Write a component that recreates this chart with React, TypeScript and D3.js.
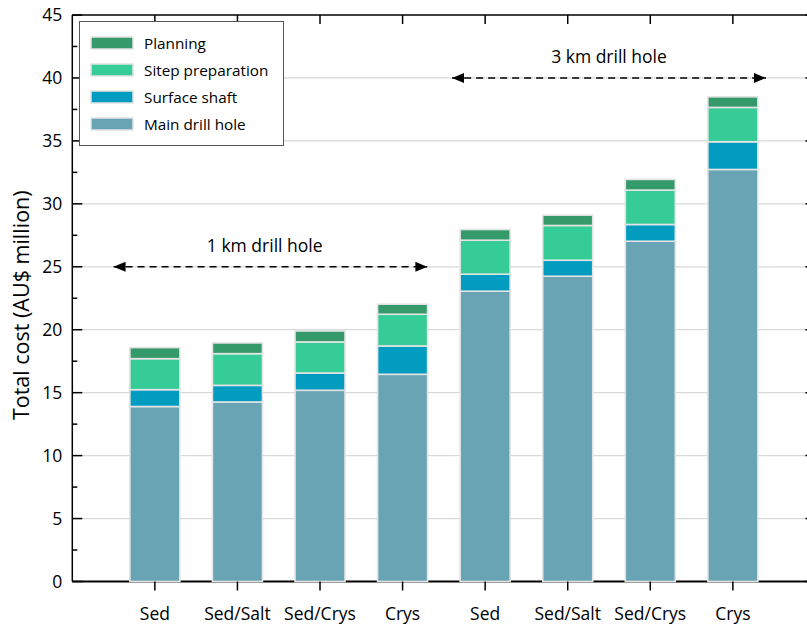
import React from "react";
import * as d3 from "d3";

// Geology categories, 1 km holes then 3 km holes
const categories = ["Sed", "Sed/Salt", "Sed/Crys", "Crys", "Sed", "Sed/Salt", "Sed/Crys", "Crys"];

// Cost components (AU$ million), stacked bottom to top
const mainDrillHole = [13.9, 14.26, 15.19, 16.46, 23.06, 24.25, 27.03, 32.73];
const surfaceShaft = [1.34, 1.32, 1.37, 2.25, 1.35, 1.27, 1.33, 2.2];
const sitePreparation = [2.46, 2.52, 2.47, 2.52, 2.7, 2.76, 2.73, 2.73];
const planning = [0.88, 0.85, 0.87, 0.8, 0.85, 0.82, 0.85, 0.84];

const seriesKeys = ["main", "shaft", "site", "planning"];
const seriesNames = ["Main drill hole", "Surface shaft", "Sitep preparation", "Planning"];
const seriesColors = ["#68a4b3", "#019cc0", "#35cc97", "#359a6a"];

const yTicks = [0, 5, 10, 15, 20, 25, 30, 35, 40, 45];
const yMinorTicks = [2.5, 7.5, 12.5, 17.5, 22.5, 27.5, 32.5, 37.5, 42.5];

// Span annotations: [from, to] in category position units, at a given cost level
const spanLabels = ["1 km drill hole", "3 km drill hole"];
const spanRanges = [
  [0.5, 4.3],
  [4.6, 8.4],
];
const spanLevels = [25, 40];
const spanTextPos = [2.33, 6.5];

const W = 807;
const H = 627;
const FONT = "'Open Sans', 'Noto Sans', sans-serif";

export default function App() {
  const x = d3.scaleLinear().domain([0, 9]).range([72.3, 72.3 + 82.57 * 9]);
  const y = d3.scaleLinear().domain([0, 45]).range([581.5, 15]);
  const barW = 50;

  const rows = categories.map((c, i) => ({
    idx: i,
    main: mainDrillHole[i],
    shaft: surfaceShaft[i],
    site: sitePreparation[i],
    planning: planning[i],
  }));
  const stacked = d3.stack<any>().keys(seriesKeys)(rows);

  const x0 = x.range()[0];
  const x1 = x.range()[1];
  const yTop = y(45);
  const yBot = y(0);

  const legendItems = [3, 2, 1, 0];

  return (
    <svg
      width={W}
      height={H}
      style={{ position: "absolute", left: 0, top: 0, background: "#fff" }}
      fontFamily={FONT}
    >
      <defs>
        <marker id="arrowhead" viewBox="0 0 10 10" refX="10" refY="5" markerWidth="12" markerHeight="10" orient="auto-start-reverse" markerUnits="userSpaceOnUse" preserveAspectRatio="none">
          <path d="M0,0 L10,5 L0,10 Z" fill="#000" />
        </marker>
      </defs>

      {/* horizontal gridlines */}
      {yTicks.slice(1, -1).map((t) => (
        <line key={"g" + t} x1={x0} x2={x1} y1={y(t)} y2={y(t)} stroke="#d9d9d9" strokeWidth={1.3} />
      ))}

      {/* bottom axis line, bars sit on top of it */}
      <line x1={x0} x2={x1} y1={yBot} y2={yBot} stroke="#000" strokeWidth={1.8} />

      {/* stacked bars */}
      {stacked.map((layer, si) =>
        layer.map((d: any, i: number) => (
          <rect
            key={si + "-" + i}
            x={x(i + 1) - barW / 2}
            y={y(d[1])}
            width={barW}
            height={y(d[0]) - y(d[1])}
            fill={seriesColors[si]}
            stroke="#e4e4e4"
            strokeWidth={1.6}
          />
        ))
      )}

      {/* frame */}
      <line x1={x0} x2={x0} y1={yTop} y2={yBot} stroke="#000" strokeWidth={1.5} />
      <line x1={x1} x2={x1} y1={yTop} y2={yBot} stroke="#000" strokeWidth={1.5} />
      <line x1={x0} x2={x1} y1={yTop} y2={yTop} stroke="#000" strokeWidth={1.5} />

      {/* y ticks: left and right inward, major and minor */}
      {yTicks.map((t) => (
        <g key={"yt" + t}>
          <line x1={x0} x2={x0 + 10} y1={y(t)} y2={y(t)} stroke="#000" strokeWidth={1.5} />
          <line x1={x1 - 10} x2={x1} y1={y(t)} y2={y(t)} stroke="#000" strokeWidth={1.5} />
          <text x={x0 - 10} y={y(t)} dy="0.36em" textAnchor="end" fontSize={17.5} fill="#000">
            {t}
          </text>
        </g>
      ))}
      {yMinorTicks.map((t) => (
        <g key={"ym" + t}>
          <line x1={x0} x2={x0 + 5} y1={y(t)} y2={y(t)} stroke="#000" strokeWidth={1.5} />
          <line x1={x1 - 5} x2={x1} y1={y(t)} y2={y(t)} stroke="#000" strokeWidth={1.5} />
        </g>
      ))}

      {/* x ticks: bottom outward, top inward */}
      {categories.map((c, i) => (
        <g key={"xt" + i}>
          <line x1={x(i + 1)} x2={x(i + 1)} y1={yBot} y2={yBot + 9} stroke="#000" strokeWidth={1.5} />
          <line x1={x(i + 1)} x2={x(i + 1)} y1={yTop} y2={yTop + 9} stroke="#000" strokeWidth={1.5} />
          <text x={x(i + 1)} y={619.5} textAnchor="middle" fontSize={17.5} fill="#000">
            {c}
          </text>
        </g>
      ))}

      {/* y axis title */}
      <text
        transform={`translate(29,${(yTop + yBot) / 2 + 7}) rotate(-90)`}
        textAnchor="middle"
        fontSize={21.5}
        fill="#000"
      >
        Total cost (AU$ million)
      </text>

      {/* drill hole depth spans */}
      {spanLabels.map((label, k) => (
        <g key={"span" + k}>
          <line
            x1={x(spanRanges[k][0])}
            x2={x(spanRanges[k][1])}
            y1={y(spanLevels[k])}
            y2={y(spanLevels[k])}
            stroke="#000"
            strokeWidth={1.6}
            strokeDasharray="7,5"
            markerStart="url(#arrowhead)"
            markerEnd="url(#arrowhead)"
          />
          <text x={x(spanTextPos[k])} y={y(spanLevels[k]) - 15} textAnchor="middle" fontSize={17.5} fill="#000">
            {label}
          </text>
        </g>
      ))}

      {/* legend */}
      <rect x={79.5} y={21.5} width={204} height={124} fill="#fff" stroke="#555" strokeWidth={1} />
      {legendItems.map((si, r) => (
        <g key={"lg" + si} transform={`translate(0,${r * 27})`}>
          <rect x={91} y={37} width={42} height={12} fill={seriesColors[si]} stroke="#e4e4e4" strokeWidth={1.5} />
          <text x={144} y={43} dy="0.36em" fontSize={15.3} fill="#000">
            {seriesNames[si]}
          </text>
        </g>
      ))}
    </svg>
  );
}
